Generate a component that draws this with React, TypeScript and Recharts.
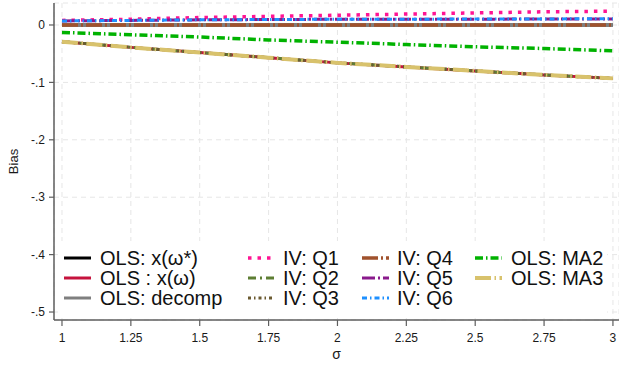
import React from 'react';
import { LineChart, Line, XAxis, YAxis, CartesianGrid } from 'recharts';

// sigma grid and bias estimates
const sigma = [1, 1.25, 1.5, 1.75, 2, 2.25, 2.5, 2.75, 3];

const olsStar = [0, 0, 0, 0, 0, 0, 0, 0, 0];
const olsOmega = [-0.029, -0.039, -0.048, -0.057, -0.066, -0.073, -0.08, -0.087, -0.093];
const olsDecomp = [0, 0, 0, 0, 0, 0, 0, 0, 0];
const ivQ1 = [0.008, 0.01, 0.013, 0.015, 0.017, 0.019, 0.021, 0.023, 0.024];
const ivQ2 = [-0.029, -0.039, -0.048, -0.057, -0.066, -0.073, -0.08, -0.087, -0.093];
const ivQ3 = [-0.029, -0.039, -0.048, -0.057, -0.066, -0.073, -0.08, -0.087, -0.093];
const ivQ4 = [0, 0, 0, 0, 0, 0, 0, 0, 0];
const ivQ5 = [0.007, 0.008, 0.009, 0.0095, 0.01, 0.01, 0.01, 0.0105, 0.0105];
const ivQ6 = [0.007, 0.008, 0.009, 0.0095, 0.01, 0.01, 0.0105, 0.0105, 0.011];
const olsMA2 = [-0.013, -0.017, -0.021, -0.026, -0.03, -0.034, -0.038, -0.041, -0.045];
const olsMA3 = [-0.029, -0.039, -0.048, -0.057, -0.066, -0.073, -0.08, -0.087, -0.093];

const xTicks = [1, 1.25, 1.5, 1.75, 2, 2.25, 2.5, 2.75, 3];
const yTicks = [0, -0.1, -0.2, -0.3, -0.4, -0.5];

interface SeriesConfig {
    key: string;
    name: string;
    color: string;
    width: number;
    dash?: string;
    values: number[];
}

// order = drawing order (later on top)
const series: SeriesConfig[] = [
    { key: 'olsStar', name: 'OLS: x(ω*)', color: '#000000', width: 3, values: olsStar },
    { key: 'olsOmega', name: 'OLS : x(ω)', color: '#c5133d', width: 3, values: olsOmega },
    { key: 'olsDecomp', name: 'OLS: decomp', color: '#7f7f7f', width: 3, values: olsDecomp },
    { key: 'ivQ1', name: 'IV: Q1', color: '#ff1493', width: 3.5, dash: '3.5 6', values: ivQ1 },
    { key: 'ivQ2', name: 'IV: Q2', color: '#5d7e33', width: 3, dash: '8 4 2 4', values: ivQ2 },
    { key: 'ivQ3', name: 'IV: Q3', color: '#6b5a30', width: 3, dash: '3 3 1.5 3', values: ivQ3 },
    { key: 'ivQ4', name: 'IV: Q4', color: '#a0522d', width: 3.5, dash: '16 3 2 3', values: ivQ4 },
    { key: 'ivQ5', name: 'IV: Q5', color: '#8a1a8c', width: 3, dash: '13 3 2 3', values: ivQ5 },
    { key: 'ivQ6', name: 'IV: Q6', color: '#1e90ff', width: 3, dash: '5 3 1.5 3', values: ivQ6 },
    { key: 'olsMA2', name: 'OLS: MA2', color: '#00b200', width: 3.5, dash: '8 3 1.5 3', values: olsMA2 },
    { key: 'olsMA3', name: 'OLS: MA3', color: '#d8c26c', width: 4, dash: '16 3.5 1.5 3.5', values: olsMA3 },
];

// legend is filled column by column
const legendColumns = [
    ['olsStar', 'olsOmega', 'olsDecomp'],
    ['ivQ1', 'ivQ2', 'ivQ3'],
    ['ivQ4', 'ivQ5', 'ivQ6'],
    ['olsMA2', 'olsMA3'],
];

const chartData = sigma.map((s, i) => {
    const row: { [key: string]: number } = { sigma: s };
    series.forEach(cfg => {
        row[cfg.key] = cfg.values[i];
    });
    return row;
});

const fmtY = (v: number) => (v === 0 ? '0' : v.toFixed(1).replace('0.', '.'));

const axisColor = '#5e5e5e';
const tickStyle = { fill: '#1a1a1a', fontSize: 12 };

const StataLegend: React.FC = () => {
    const symX = [6, 190, 304, 417];
    const textX = [42, 225, 339, 453];
    const rowY = [17, 37, 57];
    return (
        <div style={{ position: 'absolute', left: 58, top: 241, width: 549, height: 76, background: '#fff' }}>
            <svg width={549} height={76}>
                {legendColumns.map((col, ci) =>
                    col.map((key, ri) => {
                        const cfg = series.find(s => s.key === key)!;
                        return (
                            <g key={key}>
                                <line
                                    x1={symX[ci]}
                                    x2={symX[ci] + 27}
                                    y1={rowY[ri]}
                                    y2={rowY[ri]}
                                    stroke={cfg.color}
                                    strokeWidth={cfg.width}
                                    strokeDasharray={cfg.dash}
                                />
                                <text x={textX[ci]} y={rowY[ri] + 7} fontSize={20} fill="#111">
                                    {cfg.name}
                                </text>
                            </g>
                        );
                    })
                )}
            </svg>
        </div>
    );
};

export default function App() {
    return (
        <div style={{ position: 'relative', width: 619, height: 366, fontFamily: '"Liberation Sans", Arial, sans-serif', background: '#fff' }}>
            <style>{'body{margin:0}'}</style>
            <LineChart width={619} height={366} data={chartData} margin={{ top: 3, right: 0, left: 0, bottom: 0 }}>
                <CartesianGrid stroke="#e6e6e6" strokeDasharray="5 4" />
                <XAxis
                    dataKey="sigma"
                    type="number"
                    domain={[0.971, 3.022]}
                    ticks={xTicks}
                    interval={0}
                    allowDataOverflow
                    height={46}
                    tickFormatter={(v: number) => String(v)}
                    tick={tickStyle}
                    tickSize={6}
                    tickMargin={7}
                    stroke={axisColor}
                    axisLine={{ stroke: axisColor, strokeWidth: 1.5 }}
                    tickLine={{ stroke: axisColor, strokeWidth: 1.2 }}
                    label={{ value: 'σ', position: 'insideBottom', offset: 7, fill: '#1a1a1a', fontSize: 14 }}
                />
                <YAxis
                    type="number"
                    domain={[-0.5139, 0.0383]}
                    ticks={yTicks}
                    interval={0}
                    allowDataOverflow
                    width={54}
                    tickFormatter={fmtY}
                    tick={tickStyle}
                    tickSize={5}
                    tickMargin={4}
                    stroke={axisColor}
                    axisLine={{ stroke: axisColor, strokeWidth: 1.5 }}
                    tickLine={{ stroke: axisColor, strokeWidth: 1.2 }}
                    label={{
                        content: (props: any) => {
                            const vb = props.viewBox || { x: 0, y: 0, height: 0 };
                            const cx = vb.x + 13;
                            const cy = vb.y + vb.height / 2;
                            return (
                                <text x={cx} y={cy} transform={`rotate(-90 ${cx} ${cy})`} textAnchor="middle" dominantBaseline="central" fontSize={13} fill="#1a1a1a">
                                    Bias
                                </text>
                            );
                        },
                    }}
                />
                {series.map(cfg => (
                    <Line
                        key={cfg.key}
                        type="linear"
                        dataKey={cfg.key}
                        name={cfg.name}
                        stroke={cfg.color}
                        strokeWidth={cfg.width}
                        strokeDasharray={cfg.dash}
                        dot={false}
                        activeDot={false}
                        isAnimationActive={false}
                    />
                ))}
            </LineChart>
            <StataLegend />
        </div>
    );
}
